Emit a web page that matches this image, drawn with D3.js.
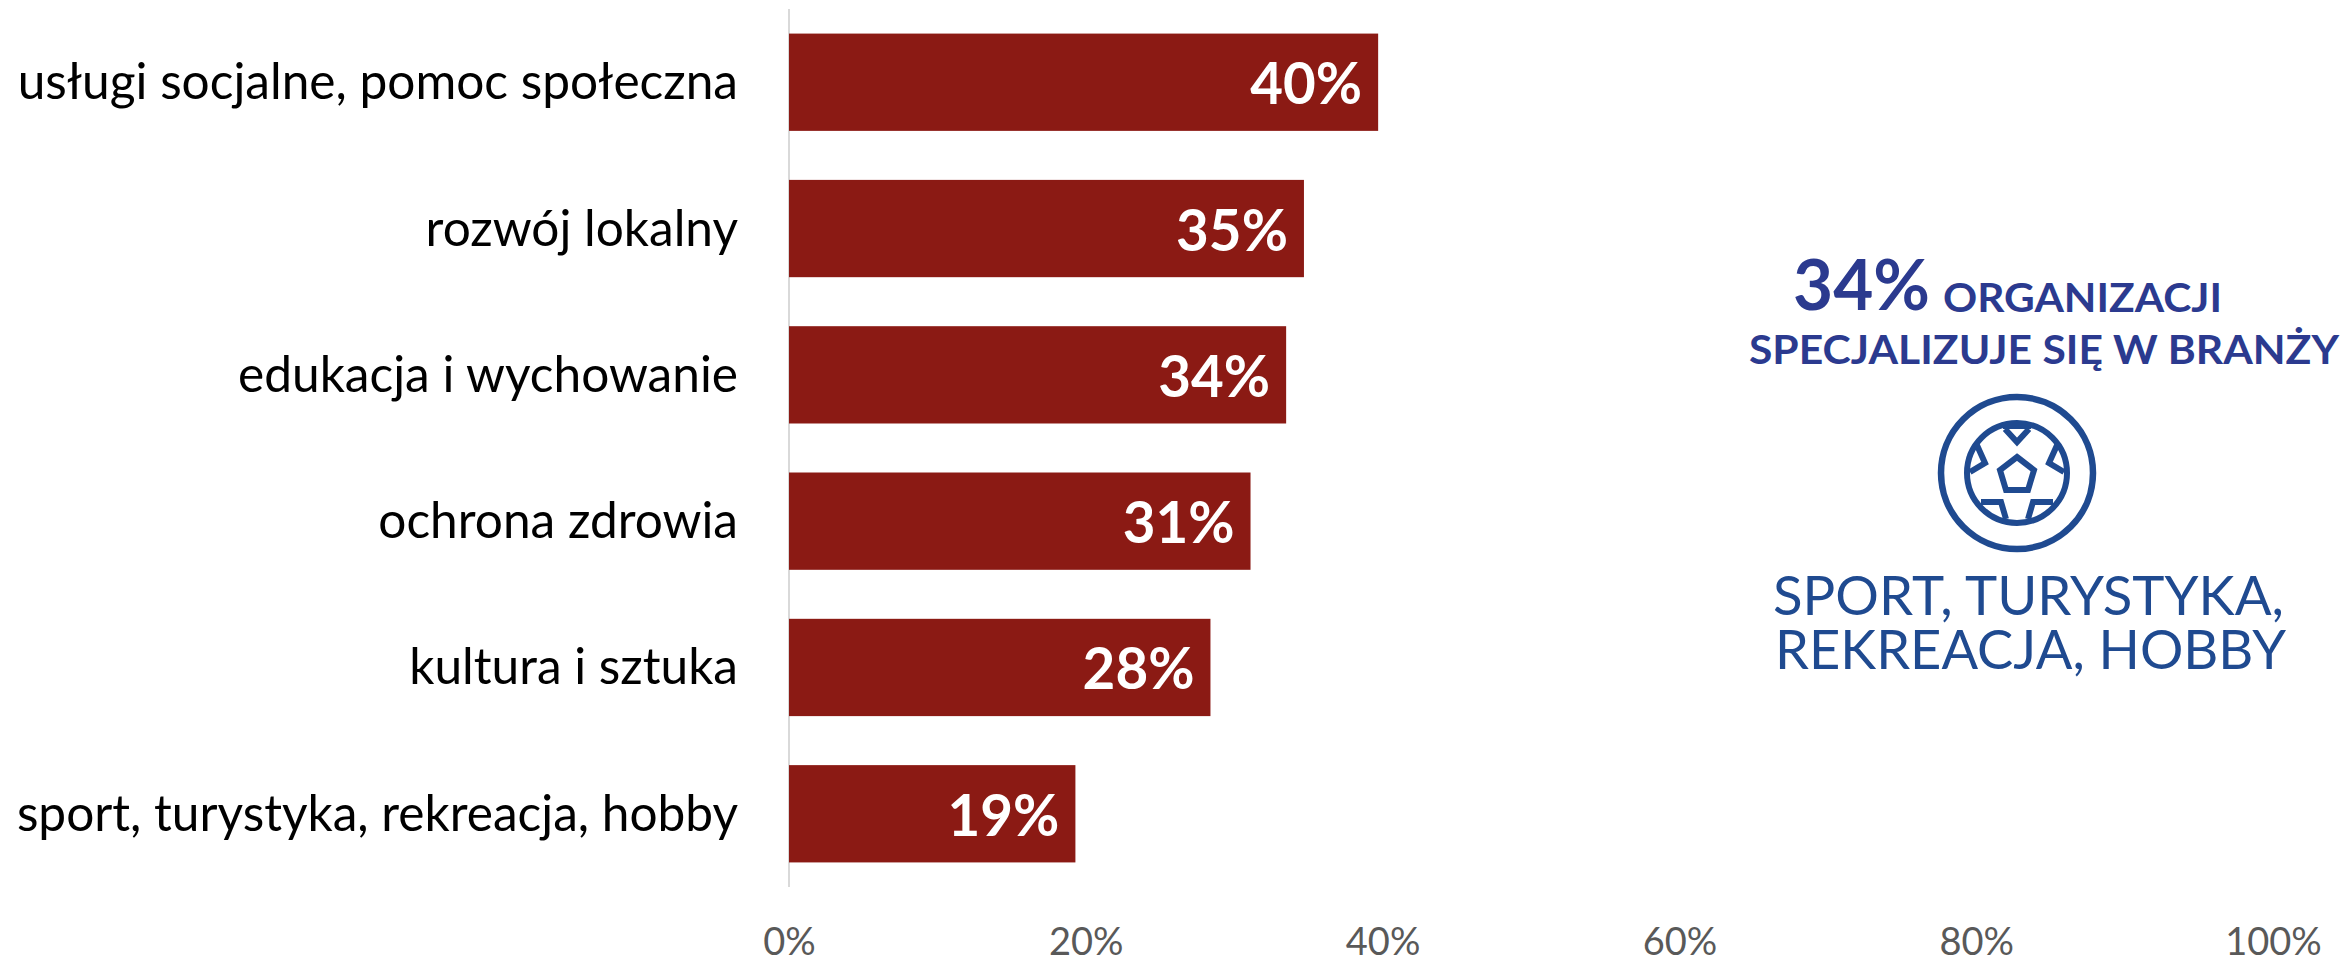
<!DOCTYPE html>
<html><head><meta charset="utf-8">
<script src="https://cdn.jsdelivr.net/npm/d3@7"></script>
<style>html,body{margin:0;padding:0;background:#fff;overflow:hidden}svg{display:block}</style>
</head><body><svg id="c" width="2346" height="957"></svg>
<script>
const categories=["usługi socjalne, pomoc społeczna","rozwój lokalny","edukacja i wychowanie","ochrona zdrowia","kultura i sztuka","sport, turystyka, rekreacja, hobby"];
const values=[39.7,34.7,33.5,31.1,28.4,19.3];
const valueLabels=["40%","35%","34%","31%","28%","19%"];
const ticks=[0,20,40,60,80,100];
const svg=d3.select("#c");
const font="Lato, sans-serif";
const x=d3.scaleLinear().domain([0,100]).range([789,2273]);
const y=d3.scaleBand().domain(categories).range([9,887]).paddingInner(0.335).paddingOuter(0.168);
svg.append("line").attr("x1",x(0)).attr("x2",x(0)).attr("y1",9).attr("y2",887).attr("stroke","#d9d9d9").attr("stroke-width",2);
const g=svg.selectAll("g.bar").data(categories).join("g").attr("class","bar");
g.append("rect").attr("x",x(0)).attr("y",c=>y(c)).attr("height",y.bandwidth()).attr("width",(c,i)=>x(values[i])-x(0)).attr("fill","#8b1a14");
g.append("text").attr("x",738).attr("y",c=>y(c)+y.bandwidth()/2+17).attr("text-anchor","end").attr("font-family",font).attr("font-size",49.6).attr("fill","#000").text(c=>c);
g.append("text").attr("x",(c,i)=>x(values[i])-16).attr("y",c=>y(c)+y.bandwidth()/2+22).attr("text-anchor","end").attr("font-family",font).attr("font-weight",700).attr("font-size",56.5).attr("fill","#fff").text((c,i)=>valueLabels[i]);
const axis=d3.axisBottom(x).tickValues(ticks).tickFormat(d=>d+"%").tickSize(0).tickPadding(0);
const ag=svg.append("g").attr("transform","translate(0,928)").call(axis);
ag.select(".domain").remove();
ag.selectAll("text").attr("font-family",font).attr("font-size",38).attr("fill","#595959");
const blue1="#2b3a8f",blue2="#1f4a90";
function t(s,px,py,fs,w,col,len){return svg.append("text").attr("x",px).attr("y",py).attr("font-family",font).attr("font-size",fs).attr("font-weight",w).attr("fill",col).attr("textLength",len).attr("lengthAdjust","spacingAndGlyphs").text(s);}
t("34%",1793,310,71,700,blue1,137);
t("ORGANIZACJI",1943,312,41,700,blue1,279);
t("SPECJALIZUJE SIĘ W BRANŻY",1749,364,41,700,blue1,590);
t("SPORT, TURYSTYKA,",1773,615,54,400,blue2,511);
t("REKREACJA, HOBBY",1775,669,54,400,blue2,511);
const ic=svg.append("g").attr("transform","translate(2017,473)").attr("fill","none").attr("stroke",blue2).attr("stroke-linejoin","miter");
ic.append("circle").attr("r",76).attr("stroke-width",6.5);
ic.append("circle").attr("r",50).attr("stroke-width",6);
ic.append("path").attr("stroke-width",6).attr("d","M0,-16L17,-3L11,17L-11,17L-17,-3Z");
ic.append("path").attr("stroke-width",6).attr("d","M-12,-44L0,-31L12,-44 M-41,-30L-32,-10L-47,-1 M41,-30L32,-10L47,-1 M-36,29L-16,29L-11,46 M36,29L16,29L11,46 M-14,-47L14,-47");
</script></body></html>
